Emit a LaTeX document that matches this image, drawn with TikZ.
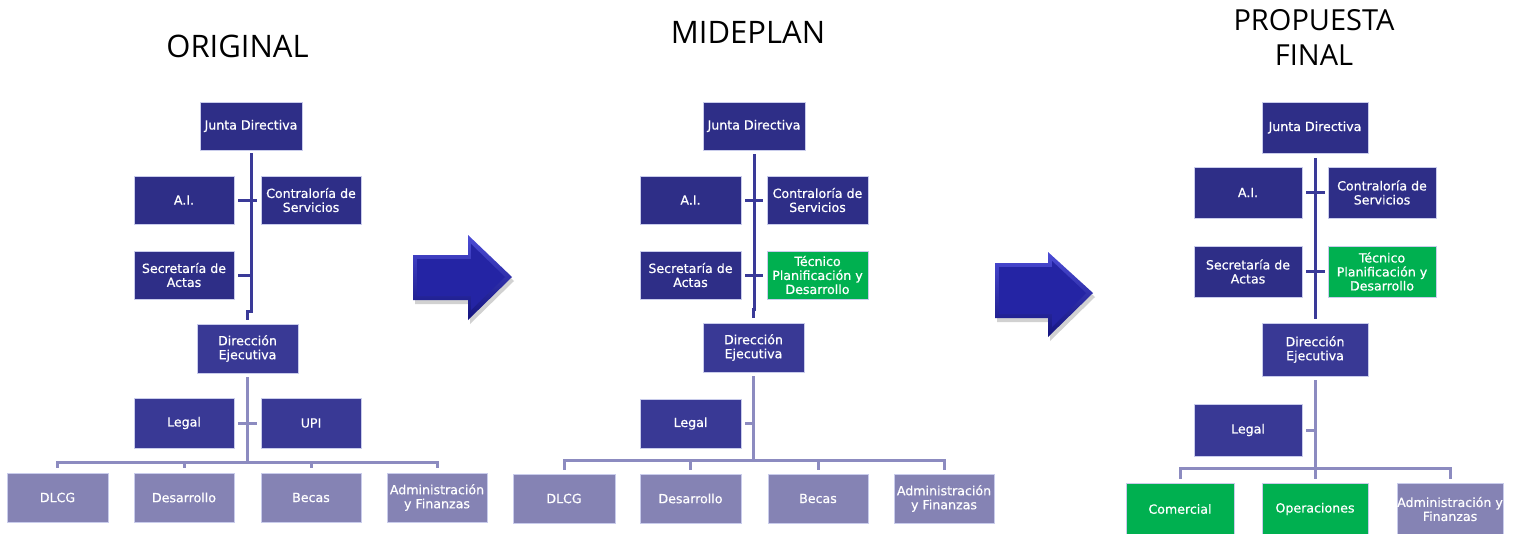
\documentclass[tikz,border=0pt]{standalone}
\usepackage{fontspec}
\setmainfont{DejaVu Sans}
\newfontfamily\titlefont{Open Sans}
\newfontfamily\boxfont{DejaVu Sans}[FakeBold=0.6]
\definecolor{cdark}{HTML}{2E2E87}
\definecolor{cmid}{HTML}{393995}
\definecolor{clight}{HTML}{8583B4}
\definecolor{cgreen}{HTML}{00B050}
\definecolor{cedge}{HTML}{C9CCEB}
\definecolor{ltrunk}{HTML}{3A3A98}
\definecolor{llight}{HTML}{8C8BC0}
\definecolor{arrowtop}{HTML}{4C4CD6}
\definecolor{arrowbot}{HTML}{14147E}
\definecolor{arrowmid}{HTML}{2424A4}
\tikzset{
  box/.style={draw=cedge, line width=0.6pt, text=white, align=center, inner sep=0pt,
    font=\boxfont\fontsize{12.6}{14}\selectfont},
  bdark/.style={box, fill=cdark},
  bmid/.style={box, fill=cmid},
  blight/.style={box, fill=clight},
  bgreen/.style={box, fill=cgreen},
  dk/.style={draw=ltrunk, line width=3pt},
  lt/.style={draw=llight, line width=3pt},
  ttl/.style={anchor=base, align=center, text=black},
  arrshadow/.style={fill=black, opacity=0.18},
  arrouter/.style={top color=arrowtop, bottom color=arrowbot, draw=none},
  arrinner/.style={fill=arrowmid, draw=none}
}
\begin{document}
\begin{tikzpicture}[x=1pt,y=-1pt]
\useasboundingbox (0,0) rectangle (1517,533);
\fill[white] (0,0) rectangle (1517,533);

% titles
\node[ttl, font=\titlefont\fontsize{31}{35}\selectfont] (t1) at (237.5,57) {ORIGINAL};
\node[ttl, font=\titlefont\fontsize{31}{35}\selectfont] (t2) at (748,43) {MIDEPLAN};
\node[ttl, font=\titlefont\fontsize{29}{35}\selectfont] (t3) at (1314,65) {PROPUESTA\\FINAL};

% ---------- panel 1 ----------
\node[bdark, minimum width=102, minimum height=48] (j1) at (251,126) {Junta Directiva};
\node[bdark, minimum width=100, minimum height=48] (a1) at (184,200) {A.I.};
\node[bdark, minimum width=100, minimum height=48] (c1) at (311,200) {Contraloría de\\Servicios};
\node[bdark, minimum width=100, minimum height=48] (s1) at (184,275) {Secretaría de\\Actas};
\node[bmid, minimum width=101, minimum height=49] (d1) at (247.5,348.5) {Dirección\\Ejecutiva};
\node[bmid, minimum width=100, minimum height=50] (l1) at (184,423) {Legal};
\node[bmid, minimum width=100, minimum height=50] (u1) at (311,423) {UPI};
\node[blight, minimum width=101, minimum height=49] (b11) at (57.5,497.5) {DLCG};
\node[blight, minimum width=100, minimum height=49] (b12) at (184,497.5) {Desarrollo};
\node[blight, minimum width=100, minimum height=49] (b13) at (311,497.5) {Becas};
\node[blight, minimum width=100, minimum height=49] (b14) at (437,497.5) {Administración\\y Finanzas};

\draw[dk] ([yshift=-3pt]j1.south) -- ([yshift=12pt]j1.south |- d1.north) -| ([yshift=4pt]d1.north);
\draw[dk] ([xshift=4pt]a1.east) -- ([xshift=-4pt]c1.west);
\draw[dk] ([xshift=4pt]s1.east) -- (s1.east -| j1.south);
\draw[lt] ([yshift=-4pt]d1.south) -- ([yshift=10pt]d1.south |- b11.north);
\draw[lt] ([xshift=4pt]l1.east) -- ([xshift=-4pt]u1.west);
\draw[lt] ([yshift=5pt]b11.north) -- ([yshift=10pt]b11.north) -- ([yshift=10pt]b14.north) -- ([yshift=5pt]b14.north);
\draw[lt] ([yshift=5pt]b12.north) -- ([yshift=10pt]b12.north);
\draw[lt] ([yshift=5pt]b13.north) -- ([yshift=10pt]b13.north);

% ---------- arrow 1 ----------
\fill[arrshadow] (415,259) -- (470,259) -- (470,239) -- (514,281) -- (470,324) -- (470,304) -- (415,304) -- cycle;
\path[arrouter] (413,255) -- (468,255) -- (468,235) -- (512,277) -- (468,320) -- (468,300) -- (413,300) -- cycle;
\path[arrinner] (417,259) -- (471,259) -- (471,244) -- (505,277) -- (471,310) -- (471,296) -- (417,296) -- cycle;

% ---------- panel 2 ----------
\node[bdark, minimum width=102, minimum height=48] (j2) at (754,126) {Junta Directiva};
\node[bdark, minimum width=101, minimum height=48] (a2) at (690.5,200) {A.I.};
\node[bdark, minimum width=101, minimum height=48] (c2) at (817.5,200) {Contraloría de\\Servicios};
\node[bdark, minimum width=101, minimum height=48] (s2) at (690.5,275) {Secretaría de\\Actas};
\node[bgreen, minimum width=101, minimum height=48] (tp2) at (817.5,275) {Técnico\\Planificación y\\Desarrollo};
\node[bmid, minimum width=101, minimum height=49] (d2) at (753.5,347.5) {Dirección\\Ejecutiva};
\node[bmid, minimum width=101, minimum height=49] (l2) at (690.5,423.5) {Legal};
\node[blight, minimum width=102, minimum height=49] (b21) at (564,498.5) {DLCG};
\node[blight, minimum width=101, minimum height=49] (b22) at (690.5,498.5) {Desarrollo};
\node[blight, minimum width=100, minimum height=49] (b23) at (818,498.5) {Becas};
\node[blight, minimum width=100, minimum height=49] (b24) at (944,498.5) {Administración\\y Finanzas};

\draw[dk] ([yshift=-4pt]j2.south) -- ([yshift=13pt]j2.south |- d2.north) -| ([yshift=5pt]d2.north);
\draw[dk] ([xshift=4pt]a2.east) -- ([xshift=-4pt]c2.west);
\draw[dk] ([xshift=4pt]s2.east) -- ([xshift=-4pt]tp2.west);
\draw[lt] ([yshift=-4pt]d2.south) -- ([yshift=13pt]d2.south |- b21.north);
\draw[lt] ([xshift=4pt]l2.east) -- (l2.east -| d2.south);
\draw[lt] ([yshift=4pt]b21.north) -- ([yshift=13pt]b21.north) -- ([yshift=13pt]b24.north) -- ([yshift=4pt]b24.north);
\draw[lt] ([yshift=4pt]b22.north) -- ([yshift=13pt]b22.north);
\draw[lt] ([yshift=4pt]b23.north) -- ([yshift=13pt]b23.north);

% ---------- arrow 2 ----------
\fill[arrshadow] (997,267) -- (1050,267) -- (1050,256) -- (1095,297) -- (1050,341) -- (1050,322) -- (997,322) -- cycle;
\path[arrouter] (995,263) -- (1048,263) -- (1048,252) -- (1093,293) -- (1048,337) -- (1048,318) -- (995,318) -- cycle;
\path[arrinner] (999,267) -- (1052,267) -- (1052,261) -- (1086,293) -- (1052,327) -- (1052,314) -- (999,314) -- cycle;

% ---------- panel 3 ----------
\node[bdark, minimum width=106, minimum height=51] (j3) at (1315,127.5) {Junta Directiva};
\node[bdark, minimum width=108, minimum height=51] (a3) at (1248,192.5) {A.I.};
\node[bdark, minimum width=108, minimum height=51] (c3) at (1382,192.5) {Contraloría de\\Servicios};
\node[bdark, minimum width=108, minimum height=51] (s3) at (1248,271.5) {Secretaría de\\Actas};
\node[bgreen, minimum width=108, minimum height=51] (tp3) at (1382,271.5) {Técnico\\Planificación y\\Desarrollo};
\node[bmid, minimum width=106, minimum height=53] (d3) at (1315,349.5) {Dirección\\Ejecutiva};
\node[bmid, minimum width=108, minimum height=52] (l3) at (1248,430) {Legal};
\node[bgreen, minimum width=108, minimum height=52] (k3) at (1180,509) {Comercial};
\node[bgreen, minimum width=106, minimum height=52] (o3) at (1315,509) {Operaciones};
\node[blight, minimum width=106, minimum height=52] (f3) at (1450,509) {Administración y\\Finanzas};

\draw[dk] ([yshift=-5pt]j3.south) -- ([yshift=4pt]d3.north);
\draw[dk] ([xshift=4pt]a3.east) -- ([xshift=-3pt]c3.west);
\draw[dk] ([xshift=4pt]s3.east) -- ([xshift=-3pt]tp3.west);
\draw[lt] ([yshift=-4pt]d3.south) -- ([yshift=4pt]o3.north);
\draw[lt] ([xshift=4pt]l3.east) -- (l3.east -| d3.south);
\draw[lt] ([yshift=4pt]k3.north) -- ([yshift=14pt]k3.north) -- ([yshift=14pt]f3.north) -- ([yshift=4pt]f3.north);
\end{tikzpicture}
\end{document}
